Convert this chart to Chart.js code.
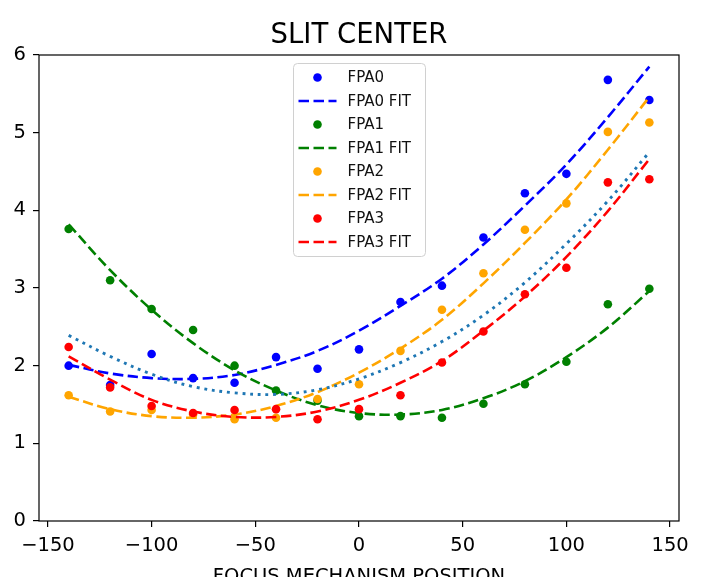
<!DOCTYPE html>
<html>
<head>
<meta charset="utf-8">
<script src="https://cdn.jsdelivr.net/npm/chart.js@4/dist/chart.umd.min.js"></script>
<style>
  html, body { margin: 0; padding: 0; background: #ffffff; }
  canvas { display: block; }
</style>
</head>
<body>
<canvas id="c" width="718" height="577"></canvas>
<script>
// ---- data ----
const positions = [-140, -120, -100, -80, -60, -40, -20, 0, 20, 40, 60, 80, 100, 120, 140];
const fpa0    = [2.00, 1.75, 2.15, 1.84, 1.78, 2.11, 1.96, 2.21, 2.82, 3.03, 3.65, 4.22, 4.47, 5.68, 5.42];
const fpa0Fit = [2.01, 1.90, 1.84, 1.83, 1.88, 2.01, 2.19, 2.45, 2.77, 3.12, 3.56, 4.06, 4.59, 5.20, 5.85];
const fpa1    = [3.76, 3.10, 2.73, 2.46, 2.00, 1.68, 1.55, 1.35, 1.35, 1.33, 1.51, 1.76, 2.05, 2.79, 2.99];
const fpa1Fit = [3.82, 3.23, 2.72, 2.29, 1.94, 1.68, 1.49, 1.39, 1.37, 1.43, 1.58, 1.80, 2.11, 2.49, 2.96];
const fpa2    = [1.62, 1.41, 1.43, 1.37, 1.31, 1.33, 1.57, 1.76, 2.19, 2.72, 3.19, 3.75, 4.09, 5.01, 5.13];
const fpa2Fit = [1.60, 1.44, 1.35, 1.33, 1.37, 1.48, 1.66, 1.91, 2.22, 2.59, 3.06, 3.58, 4.14, 4.78, 5.46];
const fpa3    = [2.24, 1.72, 1.48, 1.39, 1.43, 1.44, 1.31, 1.44, 1.62, 2.04, 2.44, 2.92, 3.26, 4.36, 4.40];
const fpa3Fit = [2.12, 1.82, 1.56, 1.41, 1.34, 1.34, 1.41, 1.56, 1.78, 2.06, 2.45, 2.89, 3.40, 3.99, 4.66];
const meanFit = [2.39, 2.12, 1.89, 1.73, 1.65, 1.63, 1.69, 1.83, 2.04, 2.31, 2.65, 3.07, 3.57, 4.12, 4.75];
const xTicks = [-150, -100, -50, 0, 50, 100, 150];
const yTicks = [0, 1, 2, 3, 4, 5, 6];
const titleText = 'SLIT CENTER';
const xTitle = 'FOCUS MECHANISM POSITION';

const toXY = arr => arr.map((v, i) => ({ x: positions[i], y: v }));
const FONT = "'DejaVu Sans', sans-serif";

function pts(label, arr, color) {
  return { label, data: toXY(arr), showLine: false, pointRadius: 4.3, pointHoverRadius: 4.3,
           pointBackgroundColor: color, pointBorderWidth: 0, borderColor: color, backgroundColor: color };
}
function fit(label, arr, color, dash, width) {
  return { label, data: toXY(arr), showLine: true, pointRadius: 0, borderColor: color,
           borderWidth: width, borderDash: dash, tension: 0.35, fill: false, backgroundColor: color,
           borderCapStyle: 'butt' };
}

const datasets = [
  pts('FPA0', fpa0, '#0000ff'),
  fit('FPA0 FIT', fpa0Fit, '#0000ff', [10.5, 4.5], 2.6),
  pts('FPA1', fpa1, '#008000'),
  fit('FPA1 FIT', fpa1Fit, '#008000', [10.5, 4.5], 2.6),
  pts('FPA2', fpa2, '#ffa500'),
  fit('FPA2 FIT', fpa2Fit, '#ffa500', [10.5, 4.5], 2.6),
  pts('FPA3', fpa3, '#ff0000'),
  fit('FPA3 FIT', fpa3Fit, '#ff0000', [10.5, 4.5], 2.6),
  fit('', meanFit, '#1f77b4', [2.9, 4.8], 2.9)
];
datasets.forEach((d, i) => { d.order = datasets.length - i; });

const frameLegendTitle = {
  id: 'frameLegendTitle',
  afterDatasetsDraw(chart) {
    const { ctx, chartArea: a } = chart;
    ctx.save();
    // axes frame
    ctx.strokeStyle = '#000';
    ctx.lineWidth = 1.2;
    ctx.strokeRect(a.left, a.top, a.right - a.left, a.bottom - a.top);
    // title centred over the plotting area
    ctx.font = '27.5px ' + FONT;
    ctx.fillStyle = '#000';
    ctx.textAlign = 'center';
    ctx.textBaseline = 'middle';
    ctx.fillText(titleText, (a.left + a.right) / 2, 35.5);
    // legend box (upper center)
    const items = chart.data.datasets.filter(d => d.label);
    const boxW = 132, rowH = 23.5, boxH = 193;
    const left = Math.round((a.left + a.right) / 2 - boxW / 2) + 0.5;
    const top = a.top + 8.5;
    ctx.beginPath();
    ctx.roundRect(left, top, boxW, boxH, 4);
    ctx.fillStyle = 'rgba(255,255,255,0.8)';
    ctx.fill();
    ctx.strokeStyle = '#d0d0d0';
    ctx.lineWidth = 1;
    ctx.stroke();
    ctx.font = '15px ' + FONT;
    ctx.textBaseline = 'middle';
    ctx.textAlign = 'left';
    items.forEach((d, i) => {
      const y = top + 14 + i * rowH;
      if (d.showLine) {
        ctx.beginPath();
        ctx.setLineDash(d.borderDash || []);
        ctx.strokeStyle = d.borderColor;
        ctx.lineWidth = d.borderWidth;
        ctx.moveTo(left + 5, y);
        ctx.lineTo(left + 43, y);
        ctx.stroke();
        ctx.setLineDash([]);
      } else {
        ctx.beginPath();
        ctx.fillStyle = d.pointBackgroundColor;
        ctx.arc(left + 24, y, 4.3, 0, Math.PI * 2);
        ctx.fill();
      }
      ctx.fillStyle = '#111';
      ctx.fillText(d.label, left + 54, y + 1);
    });
    ctx.restore();
  }
};

new Chart(document.getElementById('c'), {
  type: 'scatter',
  data: { datasets },
  plugins: [frameLegendTitle],
  options: {
    responsive: false,
    animation: false,
    events: [],
    layout: { padding: { left: 0, right: 39, top: 55, bottom: 0 } },
    plugins: {
      legend: { display: false },
      tooltip: { enabled: false },
      title: { display: false }
    },
    scales: {
      x: {
        type: 'linear', min: -154.3, max: 154.3,
        afterBuildTicks: s => { s.ticks = xTicks.map(v => ({ value: v })); },
        afterFit: s => { s.height = 56; },
        border: { display: false },
        grid: { display: true, drawOnChartArea: false, drawTicks: true, tickLength: 6, color: '#000', lineWidth: 1.2 },
        ticks: { color: '#000', padding: 7, maxRotation: 0, autoSkip: false,
                 font: { family: FONT, size: 19.5 },
                 callback: v => String(v).replace('-', '\u2212') },
        title: { display: true, text: xTitle, color: '#000',
                 font: { family: FONT, size: 19.5 }, padding: { top: 0, bottom: -12 } }
      },
      y: {
        type: 'linear', min: 0, max: 6,
        afterBuildTicks: s => { s.ticks = yTicks.map(v => ({ value: v })); },
        afterFit: s => { s.width = 39; },
        border: { display: false },
        grid: { display: true, drawOnChartArea: false, drawTicks: true, tickLength: 6, color: '#000', lineWidth: 1.2 },
        ticks: { color: '#000', padding: 7, font: { family: FONT, size: 19.5 } }
      }
    }
  }
});
</script>
</body>
</html>
